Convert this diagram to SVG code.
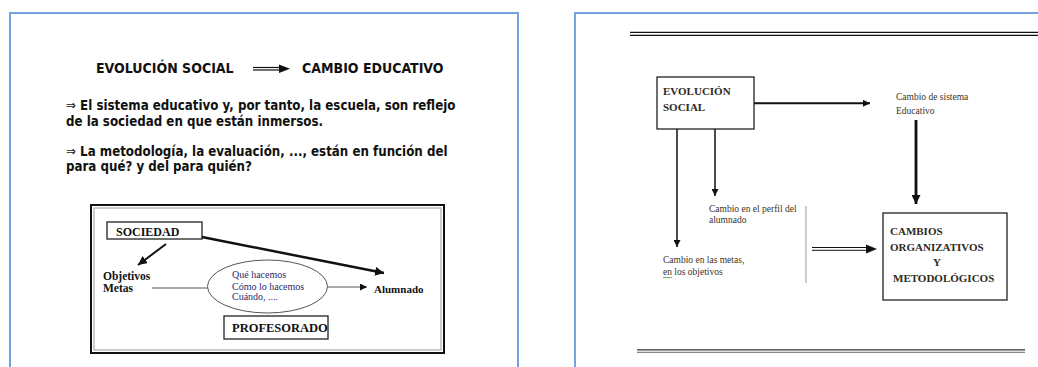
<svg xmlns="http://www.w3.org/2000/svg" width="1038" height="367" viewBox="0 0 1038 367">
<defs>
<style>
.panel{fill:#fff;stroke:#74a3de;stroke-width:2}
.sans{font-family:"DejaVu Sans Condensed","DejaVu Sans",Verdana,sans-serif;font-weight:bold;fill:#111}
.arr{font-weight:normal}
.serb{font-family:"Liberation Serif","Times New Roman",serif;font-weight:bold;fill:#111}
.ser{font-family:"Liberation Serif","Times New Roman",serif;fill:#2b2b6e}
.rt{font-family:"Liberation Serif","Times New Roman",serif;fill:#3a3325;font-size:9.5px}
.rb{font-family:"Liberation Serif","Times New Roman",serif;font-weight:bold;fill:#2e2a22}
.box{fill:#fff;stroke:#222;stroke-width:1.3}
.ln{fill:none;stroke:#111}
</style>
<marker id="ah" viewBox="0 0 10 10" refX="10" refY="5" markerWidth="7" markerHeight="7" markerUnits="userSpaceOnUse" orient="auto"><path d="M0,0L10,5L0,10z" fill="#111"/></marker>
<marker id="ahb" viewBox="0 0 10 10" refX="10" refY="5" markerWidth="9" markerHeight="9" markerUnits="userSpaceOnUse" orient="auto"><path d="M0,0L10,5L0,10z" fill="#111"/></marker>
</defs>
<rect width="1038" height="367" fill="#fff"/>
<rect class="panel" x="10" y="13" width="508" height="370"/>
<rect class="panel" x="575" y="13" width="480" height="370"/>

<g id="left-header">
<text class="sans" x="96" y="73" font-size="14">EVOLUCIÓN SOCIAL</text>
<text class="sans" x="302" y="73" font-size="14">CAMBIO EDUCATIVO</text>
<text class="sans" x="66" y="110" font-size="13.2"><tspan class="arr">⇒</tspan> El sistema educativo y, por tanto, la escuela, son reflejo</text>
<text class="sans" x="66" y="126" font-size="13.2">de la sociedad en que están inmersos.</text>
<text class="sans" x="66" y="156" font-size="13.2"><tspan class="arr">⇒</tspan> La metodología, la evaluación, ..., están en función del</text>
<text class="sans" x="66" y="171" font-size="13.2">para qué? y del para quién?</text>
</g>

<g id="left-frame">
<rect x="91" y="205" width="353" height="148" fill="none" stroke="#111" stroke-width="2"/>
<rect x="94" y="208" width="347" height="142" fill="none" stroke="#999" stroke-width="1"/>
</g>

<g id="sociedad">
<rect class="box" x="107" y="222" width="95" height="17"/>
<text class="serb" x="116" y="236" font-size="12">SOCIEDAD</text>
</g>
<g id="objetivos">
<text class="serb" x="103" y="280" font-size="11.5">Objetivos</text>
<text class="serb" x="103" y="292" font-size="11.5">Metas</text>
</g>
<g id="ellipse-node">
<ellipse cx="267.5" cy="286.5" rx="60" ry="26.5" fill="none" stroke="#555" stroke-width="1"/>
<text class="ser" x="232" y="278" font-size="10">Qué hacemos</text>
<text class="ser" x="232" y="290" font-size="10">Cómo lo hacemos</text>
<text class="ser" x="232" y="300" font-size="10">Cuándo, ....</text>
</g>
<g id="alumnado">
<text class="serb" x="374" y="293" font-size="11">Alumnado</text>
</g>
<g id="profesorado">
<rect class="box" x="224" y="316" width="104" height="23"/>
<text class="serb" x="232" y="332" font-size="12.5">PROFESORADO</text>
</g>

<g id="right-rules">
<line x1="630" y1="32.3" x2="1038" y2="32.3" stroke="#111" stroke-width="1.3"/>
<line x1="630" y1="35.3" x2="1038" y2="35.3" stroke="#111" stroke-width="1.3"/>
<line x1="637" y1="349.8" x2="1025" y2="349.8" stroke="#333" stroke-width="1.2"/>
<line x1="637" y1="352.3" x2="1025" y2="352.3" stroke="#666" stroke-width="1"/>
</g>

<g id="evolucion">
<rect class="box" x="657" y="77" width="97" height="52"/>
<text class="rb" x="663" y="95" font-size="11">EVOLUCIÓN</text>
<text class="rb" x="663" y="111" font-size="11">SOCIAL</text>
</g>
<g id="cambio-sistema">
<text class="rt" x="896" y="100">Cambio de sistema</text>
<text class="rt" x="896" y="114">Educativo</text>
</g>
<g id="cambio-perfil">
<text class="rt" x="709" y="212">Cambio en el perfil del</text>
<text class="rt" x="709" y="223">alumnado</text>
</g>
<g id="cambio-metas">
<text class="rt" x="663" y="263">Cambio en las metas,</text>
<text class="rt" x="663" y="275">en los objetivos</text>
<line x1="663" y1="277.5" x2="672" y2="277.5" stroke="#4a9a4a" stroke-width="0.8"/>
</g>
<g id="cambios">
<rect class="box" x="883" y="213" width="124" height="87"/>
<text class="rb" x="890" y="235" font-size="11">CAMBIOS</text>
<text class="rb" x="890" y="251" font-size="11">ORGANIZATIVOS</text>
<text class="rb" x="937" y="266" font-size="11" text-anchor="middle">Y</text>
<text class="rb" x="893" y="282" font-size="11">METODOLÓGICOS</text>
</g>

<g id="connectors">
<line class="ln" x1="253" y1="67.5" x2="282" y2="67.5" stroke-width="1.2"/>
<line class="ln" x1="253" y1="70" x2="282" y2="70" stroke-width="1.2"/>
<path d="M279,64.5L290,68.8L279,73z" fill="#111"/>
<line class="ln" x1="166" y1="244" x2="138" y2="265" stroke-width="2" marker-end="url(#ahb)"/>
<line class="ln" x1="202" y1="237" x2="384" y2="273" stroke-width="2.5" marker-end="url(#ahb)"/>
<line x1="152" y1="288" x2="207.5" y2="288" stroke="#555" stroke-width="1"/>
<line x1="327.5" y1="287" x2="367" y2="287" stroke="#555" stroke-width="1" marker-end="url(#ah)"/>
<line class="ln" x1="754" y1="103.3" x2="870" y2="103.3" stroke-width="2" marker-end="url(#ah)"/>
<line class="ln" x1="916" y1="120" x2="916" y2="204" stroke-width="2.8" marker-end="url(#ahb)"/>
<line class="ln" x1="677" y1="129" x2="677" y2="247" stroke-width="1.5" marker-end="url(#ah)"/>
<line class="ln" x1="715" y1="129" x2="715" y2="196" stroke-width="1.5" marker-end="url(#ah)"/>
<line x1="806" y1="206" x2="806" y2="283" stroke="#999" stroke-width="1"/>
<line class="ln" x1="812" y1="247.5" x2="870" y2="247.5" stroke-width="1"/>
<line class="ln" x1="812" y1="250.3" x2="870" y2="250.3" stroke-width="1"/>
<path d="M866,244.5L877,249L866,253.5z" fill="#111"/>
</g>
</svg>
